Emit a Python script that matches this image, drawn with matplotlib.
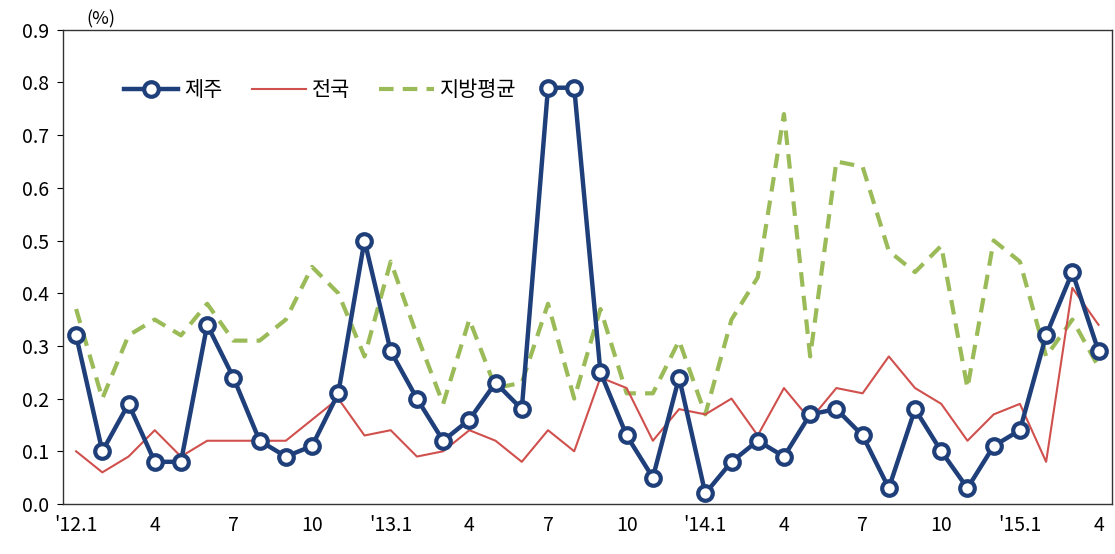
import matplotlib
matplotlib.use("Agg")
import matplotlib.pyplot as plt
import numpy as np

plt.rcParams['font.family'] = ['Noto Sans CJK KR', 'DejaVu Sans']

months = list(range(40))
tick_pos = list(range(0, 40, 3))
tick_labels = ["'12.1", "4", "7", "10", "'13.1", "4", "7", "10", "'14.1", "4", "7", "10", "'15.1", "4"]

jeju = [0.32, 0.10, 0.19, 0.08, 0.08, 0.34, 0.24, 0.12, 0.09, 0.11, 0.21, 0.50,
        0.29, 0.20, 0.12, 0.16, 0.23, 0.18, 0.79, 0.79, 0.25, 0.13, 0.05, 0.24,
        0.02, 0.08, 0.12, 0.09, 0.17, 0.18, 0.13, 0.03, 0.18, 0.10, 0.03, 0.11,
        0.14, 0.32, 0.44, 0.29]
national = [0.10, 0.06, 0.09, 0.14, 0.09, 0.12, 0.12, 0.12, 0.12, 0.16, 0.20, 0.13,
            0.14, 0.09, 0.10, 0.14, 0.12, 0.08, 0.14, 0.10, 0.24, 0.22, 0.12, 0.18,
            0.17, 0.20, 0.13, 0.22, 0.16, 0.22, 0.21, 0.28, 0.22, 0.19, 0.12, 0.17,
            0.19, 0.08, 0.41, 0.34]
regional = [0.37, 0.20, 0.32, 0.35, 0.32, 0.38, 0.31, 0.31, 0.35, 0.45, 0.40, 0.28,
            0.46, 0.32, 0.19, 0.35, 0.22, 0.23, 0.38, 0.20, 0.37, 0.21, 0.21, 0.31,
            0.17, 0.35, 0.43, 0.74, 0.28, 0.65, 0.64, 0.48, 0.44, 0.49, 0.22, 0.50,
            0.46, 0.28, 0.35, 0.26]

fig = plt.figure(figsize=(11.15, 5.54), dpi=100)
ax = fig.add_axes([0.0565, 0.0903, 0.9405, 0.856])

ax.plot(months, regional, color='#9BBB59', lw=3, ls=(0, (3.5, 2.2)), label='지방평균', zorder=2)
ax.plot(months, national, color='#D0504D', lw=1.5, label='전국', zorder=3)
ax.plot(months, jeju, color='#1F3F7A', lw=3.2, marker='o', ms=10.5, mfc='white',
        mec='#1F3F7A', mew=3, label='제주', zorder=4)

ax.set_xlim(-0.5, 39.5)
ax.set_ylim(0, 0.9)
ax.set_yticks(np.arange(0, 0.91, 0.1))
ax.set_yticklabels([f"{v:.1f}" for v in np.arange(0, 0.91, 0.1)])
ax.set_xticks(tick_pos)
ax.set_xticklabels(tick_labels)
ax.tick_params(axis='x', length=0, labelsize=14, pad=8)
ax.tick_params(axis='y', length=4, labelsize=14, pad=6)
for s in ax.spines.values():
    s.set_color('#333333')
    s.set_linewidth(1.0)

ax.text(0.022, 1.003, '(%)', transform=ax.transAxes, fontsize=13, ha='left', va='bottom')

h, l = ax.get_legend_handles_labels()
order = [2, 1, 0]
ax.legend([h[i] for i in order], [l[i] for i in order], loc='upper left',
          bbox_to_anchor=(0.04, 0.935), ncol=3, frameon=False, fontsize=15,
          handlelength=2.6, columnspacing=1.4, handletextpad=0.3)

fig.savefig('out.png', dpi=100)
